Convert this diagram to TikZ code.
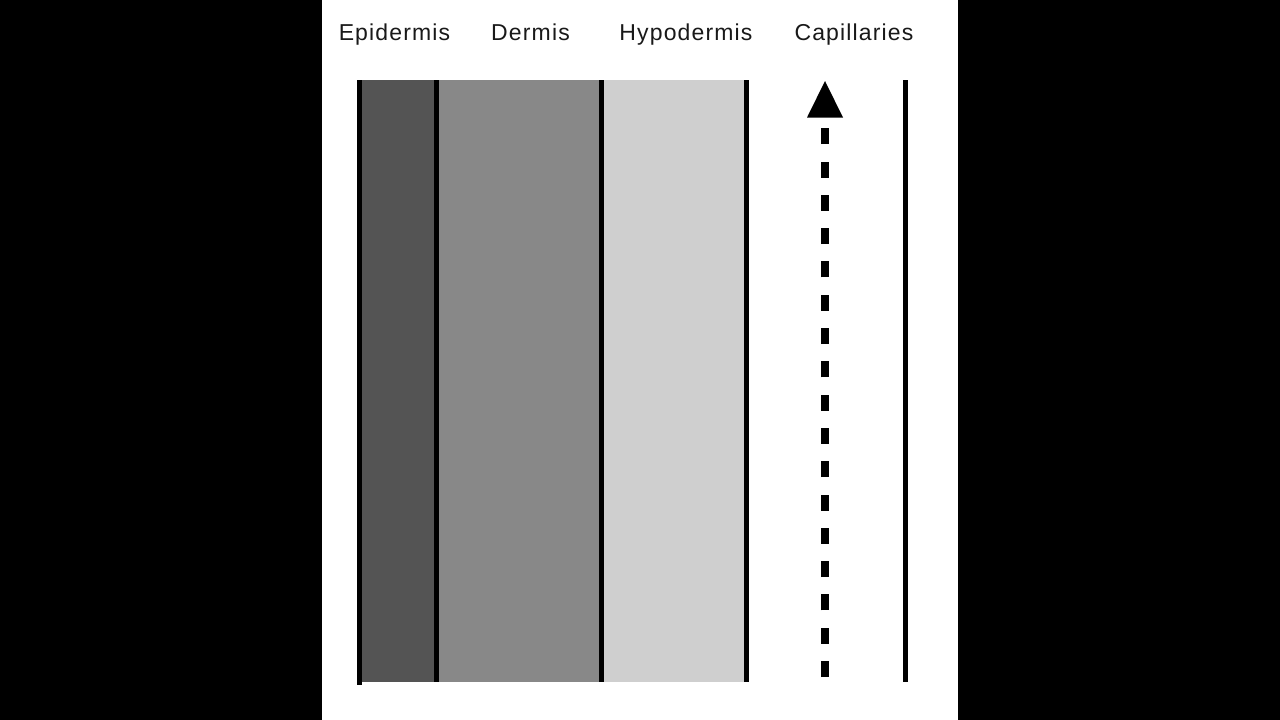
\documentclass[tikz,border=0pt]{standalone}
\usepackage{fontspec}
\setmainfont{Liberation Sans}[LetterSpace=5]
\begin{document}
\begin{tikzpicture}[x=1pt,y=-1pt,
  lbl/.style={anchor=base,inner sep=0pt,font=\fontsize{23}{26}\selectfont,text=black!90},
  sep/.style={line width=5pt,line cap=butt},
  layer/.style={draw=none}]
\useasboundingbox (0,0) rectangle (1280,720);
\fill[black] (0,0) rectangle (1280,720);
\fill[white] (322,0) rectangle (958,720);
% layers
\fill[layer,fill={rgb,255:red,84;green,84;blue,84}] (359,80) rectangle (437,682);
\fill[layer,fill={rgb,255:red,136;green,136;blue,136}] (437,80) rectangle (601,682);
\fill[layer,fill={rgb,255:red,207;green,207;blue,207}] (601,80) rectangle (747,682);
% separators
\draw[sep] (359.5,80) -- (359.5,685);
\draw[sep] (436.5,80) -- (436.5,682);
\draw[sep] (601.5,80) -- (601.5,682);
\draw[sep] (746.5,80) -- (746.5,682);
\draw[sep] (905,80) -- (905,682);
% labels
\node[lbl] (epi) at (394.5,40) {Epidermis};
\node[lbl] (der) at (530.5,40) {Dermis};
\node[lbl] (hyp) at (686,40) {Hypodermis};
\node[lbl] (cap) at (854,40) {Capillaries};
% arrow
\coordinate (a0) at (825,677);
\coordinate (a1) at (825,128);
\draw[line width=8pt,dash pattern=on 16pt off 17.3pt] (a0) -- (a1);
\fill[black] (807,117.5) -- (843,117.5) -- (825,81) -- cycle;
\end{tikzpicture}
\end{document}
